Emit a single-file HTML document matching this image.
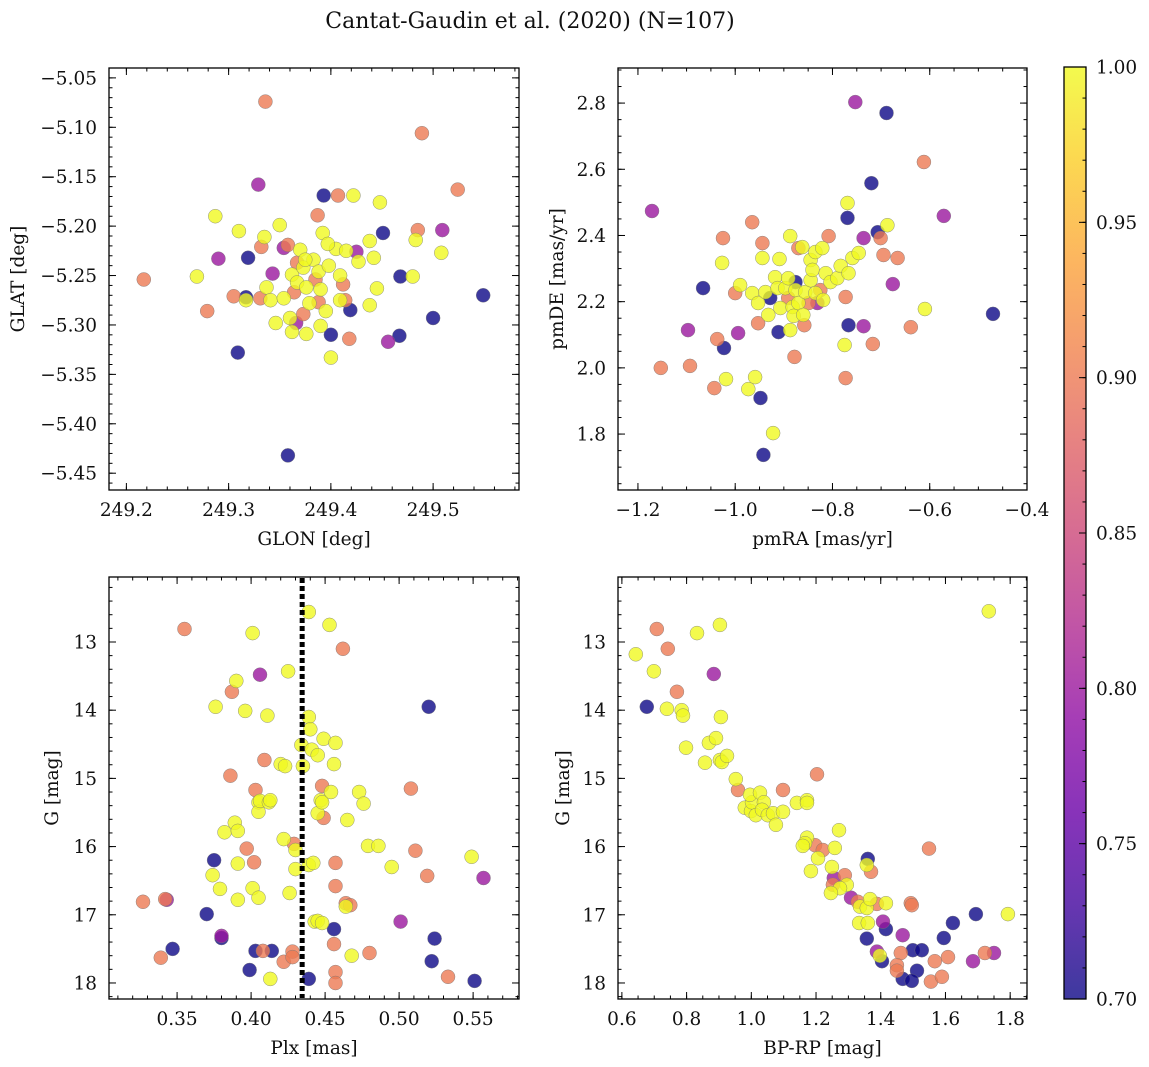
<!DOCTYPE html>
<html><head><meta charset="utf-8"><style>
html,body{margin:0;padding:0;background:#fff;}
svg{display:block;font-family:"DejaVu Serif","Liberation Serif",serif;}
</style></head><body>
<svg id="fig" width="1149" height="1067" viewBox="0 0 1149 1067" xmlns="http://www.w3.org/2000/svg">
<text x="530" y="28" font-size="22" text-anchor="middle" fill="#111">Cantat-Gaudin et al. (2020) (N=107)</text>
</svg>
<script>
// ---------- Panel 1: GLON vs GLAT ----------
const glon=[249.217,249.269,249.279,249.287,249.290,249.305,249.309,249.310,249.317,249.317,249.319,249.329,249.336,249.332,249.335,249.331,249.337,249.341,249.343,249.346,249.350,249.354,249.358,249.360,249.358,249.362,249.367,249.364,249.367,249.370,249.373,249.366,249.362,249.376,249.373,249.376,249.383,249.385,249.388,249.387,249.393,249.407,249.422,249.392,249.390,249.388,249.395,249.390,249.400,249.400,249.398,249.405,249.415,249.409,249.412,249.414,249.419,249.418,249.409,249.425,249.438,249.442,249.445,249.438,249.451,249.448,249.456,249.467,249.468,249.480,249.483,249.485,249.489,249.500,249.509,249.508,249.524,249.549,249.354,249.375,249.397,249.379,249.427];
const glat=[-5.254,-5.251,-5.286,-5.190,-5.233,-5.271,-5.328,-5.205,-5.272,-5.275,-5.232,-5.158,-5.074,-5.221,-5.211,-5.273,-5.262,-5.275,-5.248,-5.298,-5.199,-5.222,-5.219,-5.293,-5.432,-5.249,-5.237,-5.267,-5.257,-5.224,-5.242,-5.298,-5.307,-5.309,-5.289,-5.262,-5.234,-5.254,-5.246,-5.189,-5.169,-5.169,-5.169,-5.207,-5.264,-5.277,-5.286,-5.301,-5.310,-5.333,-5.240,-5.223,-5.225,-5.250,-5.259,-5.275,-5.285,-5.314,-5.275,-5.226,-5.215,-5.232,-5.263,-5.280,-5.207,-5.176,-5.317,-5.311,-5.251,-5.251,-5.214,-5.204,-5.106,-5.293,-5.204,-5.227,-5.163,-5.270,-5.273,-5.234,-5.218,-5.278,-5.236];
const prob1=[0.9,1,0.9,1,0.8,0.9,0.7,1,0.7,1,0.7,0.8,0.9,0.9,1,0.9,1,1,0.8,1,1,0.8,0.9,1,0.7,1,0.9,0.9,1,1,1,0.8,1,1,0.9,1,1,0.9,1,0.9,0.7,0.9,1,1,1,0.9,1,1,0.7,1,1,1,1,1,0.9,0.9,0.7,0.9,1,0.8,1,1,1,1,0.7,1,0.8,0.7,0.7,1,1,0.9,0.9,0.7,0.8,1,0.9,0.7,1,1,1,1,1];
const p1XTicks=[249.2,249.3,249.4,249.5];
const p1XLabels=["249.2","249.3","249.4","249.5"];
const p1YTicks=[-5.05,-5.10,-5.15,-5.20,-5.25,-5.30,-5.35,-5.40,-5.45];
const p1YLabels=["\u22125.05","\u22125.10","\u22125.15","\u22125.20","\u22125.25","\u22125.30","\u22125.35","\u22125.40","\u22125.45"];

// ---------- Panel 2: pmRA vs pmDE ----------
const pmra=[-1.171,-1.153,-1.097,-1.093,-1.066,-1.027,-1.025,-1.037,-1.023,-1.043,-1.019,-1.000,-0.994,-0.990,-0.973,-0.965,-0.965,-0.959,-0.953,-0.953,-0.948,-0.944,-0.944,-0.942,-0.938,-0.932,-0.928,-0.922,-0.918,-0.913,-0.911,-0.909,-0.907,-0.897,-0.891,-0.891,-0.887,-0.887,-0.882,-0.880,-0.878,-0.876,-0.876,-0.870,-0.870,-0.862,-0.860,-0.858,-0.856,-0.849,-0.845,-0.845,-0.841,-0.835,-0.835,-0.831,-0.825,-0.821,-0.819,-0.814,-0.808,-0.804,-0.790,-0.783,-0.775,-0.773,-0.773,-0.769,-0.769,-0.767,-0.767,-0.759,-0.753,-0.746,-0.736,-0.736,-0.720,-0.717,-0.707,-0.701,-0.695,-0.689,-0.687,-0.676,-0.666,-0.639,-0.612,-0.610,-0.571,-0.470];
const pmde=[2.474,2.000,2.114,2.006,2.241,2.317,2.392,2.087,2.060,1.939,1.966,2.226,2.105,2.250,1.936,2.440,2.226,1.972,2.135,2.196,1.909,2.377,2.332,1.737,2.229,2.160,2.211,1.803,2.274,2.241,2.108,2.329,2.181,2.241,2.271,2.211,2.398,2.114,2.184,2.157,2.033,2.259,2.235,2.362,2.196,2.365,2.160,2.129,2.229,2.196,2.326,2.265,2.296,2.350,2.226,2.196,2.235,2.362,2.205,2.286,2.398,2.259,2.271,2.308,2.069,2.214,1.969,2.498,2.453,2.286,2.129,2.332,2.803,2.347,2.126,2.392,2.558,2.072,2.410,2.392,2.341,2.770,2.431,2.253,2.332,2.123,2.622,2.178,2.459,2.163];
const prob2=[0.8,0.9,0.8,0.9,0.7,1,0.9,0.9,0.7,0.9, 1,0.9,0.8,1,1,0.9,1,1,0.9,1, 0.7,0.9,1,0.7,1,1,0.7,1,1,1, 0.7,1,1,1,1,0.9,1,1,1,1, 0.9,0.7,1,0.9,1,1,1,0.9,1,0.9, 1,1,1,1,1,0.8,0.9,1,1,1, 0.9,1,1,1,1,0.9,0.9,1,0.7,1, 0.7,1,0.8,1,0.8,0.8,0.7,0.9,0.7,0.9, 0.9,0.7,1,0.8,0.9,0.9,0.9,1,0.8,0.7];
const p2XTicks=[-1.2,-1.0,-0.8,-0.6,-0.4];
const p2XLabels=["\u22121.2","\u22121.0","\u22120.8","\u22120.6","\u22120.4"];
const p2YTicks=[1.8,2.0,2.2,2.4,2.6,2.8];
const p2YLabels=["1.8","2.0","2.2","2.4","2.6","2.8"];

// ---------- Panel 3: Plx vs G ----------
const plx=[0.327,0.339,0.342,0.343,0.347,0.355,0.370,0.374,0.376,0.375,0.379,0.380,0.380,0.382,0.386,0.387,0.389,0.390,0.391,0.391,0.391,0.396,0.397,0.399,0.401,0.401,0.402,0.403,0.403,0.405,0.405,0.406,0.406,0.405,0.408,0.409,0.411,0.412,0.413,0.413,0.414,0.420,0.422,0.422,0.423,0.425,0.426,0.428,0.428,0.429,0.430,0.430,0.434,0.435,0.439,0.439,0.439,0.439,0.440,0.441,0.442,0.443,0.445,0.445,0.447,0.445,0.448,0.448,0.449,0.449,0.448,0.453,0.454,0.456,0.456,0.457,0.457,0.457,0.457,0.457,0.456,0.462,0.464,0.465,0.464,0.467,0.468,0.473,0.476,0.479,0.480,0.486,0.495,0.501,0.508,0.511,0.519,0.533,0.520,0.522,0.524,0.549,0.551,0.557];
const gmag3=[16.81,17.63,16.77,16.78,17.50,12.81,16.99,16.42,13.95,16.20,16.62,17.31,17.34,15.79,14.96,13.73,15.65,13.57,15.77,16.78,16.25,14.01,16.03,17.81,16.61,12.87,16.23,15.17,17.53,15.35,15.49,15.33,13.48,16.75,17.53,14.73,14.08,15.35,15.32,17.94,17.53,14.79,17.69,15.89,14.82,13.43,16.68,17.54,17.62,15.96,16.33,16.05,14.51,14.82,12.56,14.10,17.94,16.27,14.28,14.58,16.24,17.10,17.09,14.66,15.32,15.51,17.12,15.11,14.42,15.58,15.35,12.75,15.20,17.21,17.43,14.48,17.84,18.00,16.24,16.58,14.79,13.10,16.83,15.61,16.88,16.86,17.60,15.20,15.37,15.99,17.56,15.99,16.30,17.10,15.15,16.06,16.43,17.91,13.95,17.68,17.35,16.15,17.97,16.46];
const prob3=[0.9,0.9,0.9,0.8,0.7,0.9,0.7,1,1,0.7, 1,0.8,0.7,1,0.9,0.9,1,1,1,1, 1,1,0.9,0.7,1,1,0.9,0.9,0.7,1, 1,1,0.8,1,0.9,0.9,1,1,1,1, 0.7,1,0.9,1,1,1,1,0.9,0.9,0.9, 1,1,1,1,1,1,0.7,1,1,1, 1,1,1,1,1,1,1,0.9,1,0.9, 1,1,1,0.7,0.9,1,0.9,0.9,0.9,0.9, 1,0.9,0.9,1,1,0.9,1,1,1,1, 0.9,1,1,0.8,0.9,0.9,0.9,0.9,0.7,0.7, 0.7,1,0.7,0.8];
const plxCut=[0.4345];
const p3XTicks=[0.35,0.40,0.45,0.50,0.55];
const p3XLabels=["0.35","0.40","0.45","0.50","0.55"];
const gTicks=[13,14,15,16,17,18];
const gLabels=["13","14","15","16","17","18"];

// ---------- Panel 4: BP-RP vs G ----------
const bprp=[0.643,0.677,0.699,0.708,0.742,0.739,0.770,0.832,0.884,0.903,0.785,0.789,0.798,0.869,0.891,0.906,0.903,0.857,0.909,0.925,0.952,0.959,0.980,0.999,1.002,1.014,0.996,1.203,1.098,1.027,1.039,1.033,1.051,1.067,1.076,1.098,1.141,1.172,1.172,1.271,1.172,1.166,1.159,1.197,1.221,1.258,1.206,1.184,1.249,1.549,1.360,1.357,1.370,1.255,1.289,1.252,1.295,1.274,1.246,1.308,1.329,1.336,1.357,1.367,1.388,1.416,1.493,1.496,1.694,1.793,1.333,1.360,1.407,1.416,1.623,1.468,1.357,1.595,1.388,1.397,1.404,1.462,1.499,1.527,1.567,1.608,1.685,1.722,1.750,1.450,1.450,1.512,1.468,1.496,1.555,1.589,1.734];
const gmag4=[13.18,13.95,13.43,12.81,13.10,13.98,13.73,12.87,13.47,12.75,14.00,14.08,14.55,14.48,14.41,14.10,14.73,14.77,14.76,14.67,15.01,15.17,15.43,15.48,15.35,15.54,15.24,14.94,15.17,15.21,15.35,15.46,15.54,15.51,15.68,15.49,15.36,15.32,15.36,15.76,15.87,15.95,15.99,15.98,16.05,16.02,16.17,16.36,16.30,16.03,16.18,16.27,16.37,16.46,16.42,16.56,16.56,16.61,16.68,16.75,16.81,16.88,16.90,16.77,16.84,16.83,16.83,16.86,16.99,16.99,17.12,17.12,17.10,17.21,17.12,17.30,17.35,17.34,17.54,17.60,17.68,17.56,17.52,17.52,17.68,17.62,17.68,17.56,17.56,17.74,17.82,17.82,17.94,17.97,17.98,17.91,12.55];
const prob4=[1,0.7,1,0.9,0.9,1,0.9,1,0.8,1, 1,1,1,1,1,1,1,1,1,1, 1,0.9,1,1,1,1,1, 0.9,0.9,1,1,1,1,1,1,1,1,1,1,1,1,1,1,0.9,0.9,1,1,1,1,0.9,0.7,1,0.9,0.8,0.9,0.9,1,1,1,0.8,0.9,1,1,1,0.9,1,0.9,0.9,0.7,1,1,1,0.8,0.7,0.7,0.8,0.7,0.7,0.8,1,0.7,0.9,0.7,0.7,0.9,0.9,0.8,0.9,0.8,0.9,0.9,0.7,0.7,0.7,0.9,0.9,1];
const p4XTicks=[0.6,0.8,1.0,1.2,1.4,1.6,1.8];
const p4XLabels=["0.6","0.8","1.0","1.2","1.4","1.6","1.8"];

// ---------- Colorbar ----------
const cbTicks=[0.70,0.75,0.80,0.85,0.90,0.95,1.00];
const cbLabels=["0.70","0.75","0.80","0.85","0.90","0.95","1.00"];

const NS="http://www.w3.org/2000/svg";
const svg=document.getElementById('fig');
function mk(tag,attrs,parent){const e=document.createElementNS(NS,tag);for(const k in attrs)e.setAttribute(k,attrs[k]);(parent||svg).appendChild(e);return e;}
function lin(d0,d1,r0,r1){return v=>r0+(v-d0)/(d1-d0)*(r1-r0);}
const plasmaStops=["#0d0887","#41049d","#6a00a8","#8f0da4","#b12a90","#cc4778","#e16462","#f2844b","#fca636","#fcce25","#f0f921"];
function hex(h){return [parseInt(h.slice(1,3),16),parseInt(h.slice(3,5),16),parseInt(h.slice(5,7),16)];}
function plasma(t){t=Math.max(0,Math.min(1,t));const s=t*10,i=Math.min(9,Math.floor(s)),f=s-i;const a=hex(plasmaStops[i]),b=hex(plasmaStops[i+1]);return 'rgb('+a.map((v,k)=>Math.round(v+(b[k]-v)*f)).join(',')+')';}
const cnorm=lin(0.7,1.0,0,1);

function panel(o){
  const g=mk('g',{});
  
  
  const sx=lin(o.xd[0],o.xd[1],o.L,o.R);
  const sy=lin(o.yd[0],o.yd[1],o.B,o.T);
  const n=Math.min(o.xs.length,o.ys.length,o.cs.length);
  const idx=[];for(let i=0;i<n;i++)idx.push(i);
  idx.sort((a,b)=>o.cs[a]-o.cs[b]);
  const pg=mk('g',{},g);
  
  
  idx.forEach(i=>{
    const c=mk('circle',{cx:sx(o.xs[i]).toFixed(1),cy:sy(o.ys[i]).toFixed(1),r:7,fill:plasma(cnorm(o.cs[i])),'fill-opacity':0.8,stroke:'#777','stroke-width':0.5,'stroke-opacity':0.8},pg);
    
    
  });
  if(o.extra)o.extra(g,sx,sy);
  const fr=mk('rect',{x:o.L,y:o.T,width:o.R-o.L,height:o.B-o.T,fill:'none',stroke:'#000','stroke-width':1.3},g);
  
  
  const tg=mk('g',{stroke:'#000','stroke-width':1},g);
  const xlo=Math.min(o.xd[0],o.xd[1]),xhi=Math.max(o.xd[0],o.xd[1]);
  for(let v=Math.ceil(xlo/o.xm-1e-6)*o.xm;v<=xhi+1e-9;v+=o.xm){const x=sx(v);mk('line',{x1:x,x2:x,y1:o.B,y2:o.B-3.5},tg);mk('line',{x1:x,x2:x,y1:o.T,y2:o.T+3.5},tg);}
  const ylo=Math.min(o.yd[0],o.yd[1]),yhi=Math.max(o.yd[0],o.yd[1]);
  for(let v=Math.ceil(ylo/o.ym-1e-6)*o.ym;v<=yhi+1e-9;v+=o.ym){const y=sy(v);mk('line',{x1:o.L,x2:o.L+3.5,y1:y,y2:y},tg);mk('line',{x1:o.R,x2:o.R-3.5,y1:y,y2:y},tg);}
  o.xt.forEach((v,i)=>{const x=sx(v);mk('line',{x1:x,x2:x,y1:o.B,y2:o.B-7},tg);mk('line',{x1:x,x2:x,y1:o.T,y2:o.T+7},tg);
    const t=mk('text',{x:x,y:o.B+26,'font-size':18.5,'text-anchor':'middle',fill:'#111'},g);t.textContent=o.xl[i];
    
    });
  o.yt.forEach((v,i)=>{const y=sy(v);mk('line',{x1:o.L,x2:o.L+7,y1:y,y2:y},tg);mk('line',{x1:o.R,x2:o.R-7,y1:y,y2:y},tg);
    const t=mk('text',{x:o.L-12,y:y+6.5,'font-size':18.5,'text-anchor':'end',fill:'#111'},g);t.textContent=o.yl[i];
    
    });
  const xt=mk('text',{x:(o.L+o.R)/2,y:o.B+55,'font-size':18.5,'text-anchor':'middle',fill:'#111'},g);xt.textContent=o.xlabel;
  
  
  const yc=(o.T+o.B)/2;
  const yt=mk('text',{x:o.ylx,y:yc,'font-size':18.5,'text-anchor':'middle',fill:'#111',transform:'rotate(-90 '+o.ylx+' '+yc+')'},g);yt.textContent=o.ylabel;
  
  
}

panel({name:'glon-glat-panel',L:109,R:519,T:68,B:490,xd:[249.183,249.584],yd:[-5.467,-5.040],xs:glon,ys:glat,cs:prob1,xt:p1XTicks,xl:p1XLabels,yt:p1YTicks,yl:p1YLabels,xm:0.02,ym:0.01,xlabel:'GLON [deg]',ylabel:'GLAT [deg]',ylx:24});
panel({name:'pm-panel',L:618,R:1027,T:68,B:490,xd:[-1.241,-0.4],yd:[1.631,2.906],xs:pmra,ys:pmde,cs:prob2,xt:p2XTicks,xl:p2XLabels,yt:p2YTicks,yl:p2YLabels,xm:0.05,ym:0.05,xlabel:'pmRA [mas/yr]',ylabel:'pmDE [mas/yr]',ylx:563});
panel({name:'plx-g-panel',L:109,R:519,T:577,B:999,xd:[0.304,0.581],yd:[18.235,12.047],xs:plx,ys:gmag3,cs:prob3,xt:p3XTicks,xl:p3XLabels,yt:gTicks,yl:gLabels,xm:0.01,ym:0.2,xlabel:'Plx [mas]',ylabel:'G [mag]',ylx:58,
  extra:(g,sx,sy)=>{plxCut.forEach(v=>{const x=sx(v);const l=mk('line',{x1:x,x2:x,y1:578,y2:998,stroke:'#000','stroke-width':5,'stroke-dasharray':'5,3'},g);
    
    });}});
panel({name:'cmd-panel',L:618,R:1027,T:577,B:999,xd:[0.588,1.852],yd:[18.235,12.047],xs:bprp,ys:gmag4,cs:prob4,xt:p4XTicks,xl:p4XLabels,yt:gTicks,yl:gLabels,xm:0.05,ym:0.2,xlabel:'BP-RP [mag]',ylabel:'G [mag]',ylx:569});

(function(){
  const L=1064,R=1086,T=67,B=999;
  const g=mk('g',{});
  
  
  const defs=mk('defs',{},g);
  const lg=mk('linearGradient',{id:'cbg',x1:0,y1:1,x2:0,y2:0},defs);
  plasmaStops.forEach((c,i)=>mk('stop',{offset:(i/10).toFixed(2),'stop-color':c},lg));
  mk('rect',{x:L,y:T,width:R-L,height:B-T,fill:'url(#cbg)','fill-opacity':0.8},g);
  mk('rect',{x:L,y:T,width:R-L,height:B-T,fill:'none',stroke:'#000','stroke-width':1.3},g);
  const sy=lin(0.7,1.0,B,T);
  for(let v=0.70;v<=1.0001;v+=0.01){const y=sy(v);mk('line',{x1:R,x2:R-3.5,y1:y,y2:y,stroke:'#000','stroke-width':1},g);}
  cbTicks.forEach((v,i)=>{const y=sy(v);mk('line',{x1:R,x2:R-7,y1:y,y2:y,stroke:'#000','stroke-width':1},g);
    const t=mk('text',{x:R+10,y:y+6.5,'font-size':18.5,fill:'#111'},g);t.textContent=cbLabels[i];
    
    });
})();
</script>
</body></html>
